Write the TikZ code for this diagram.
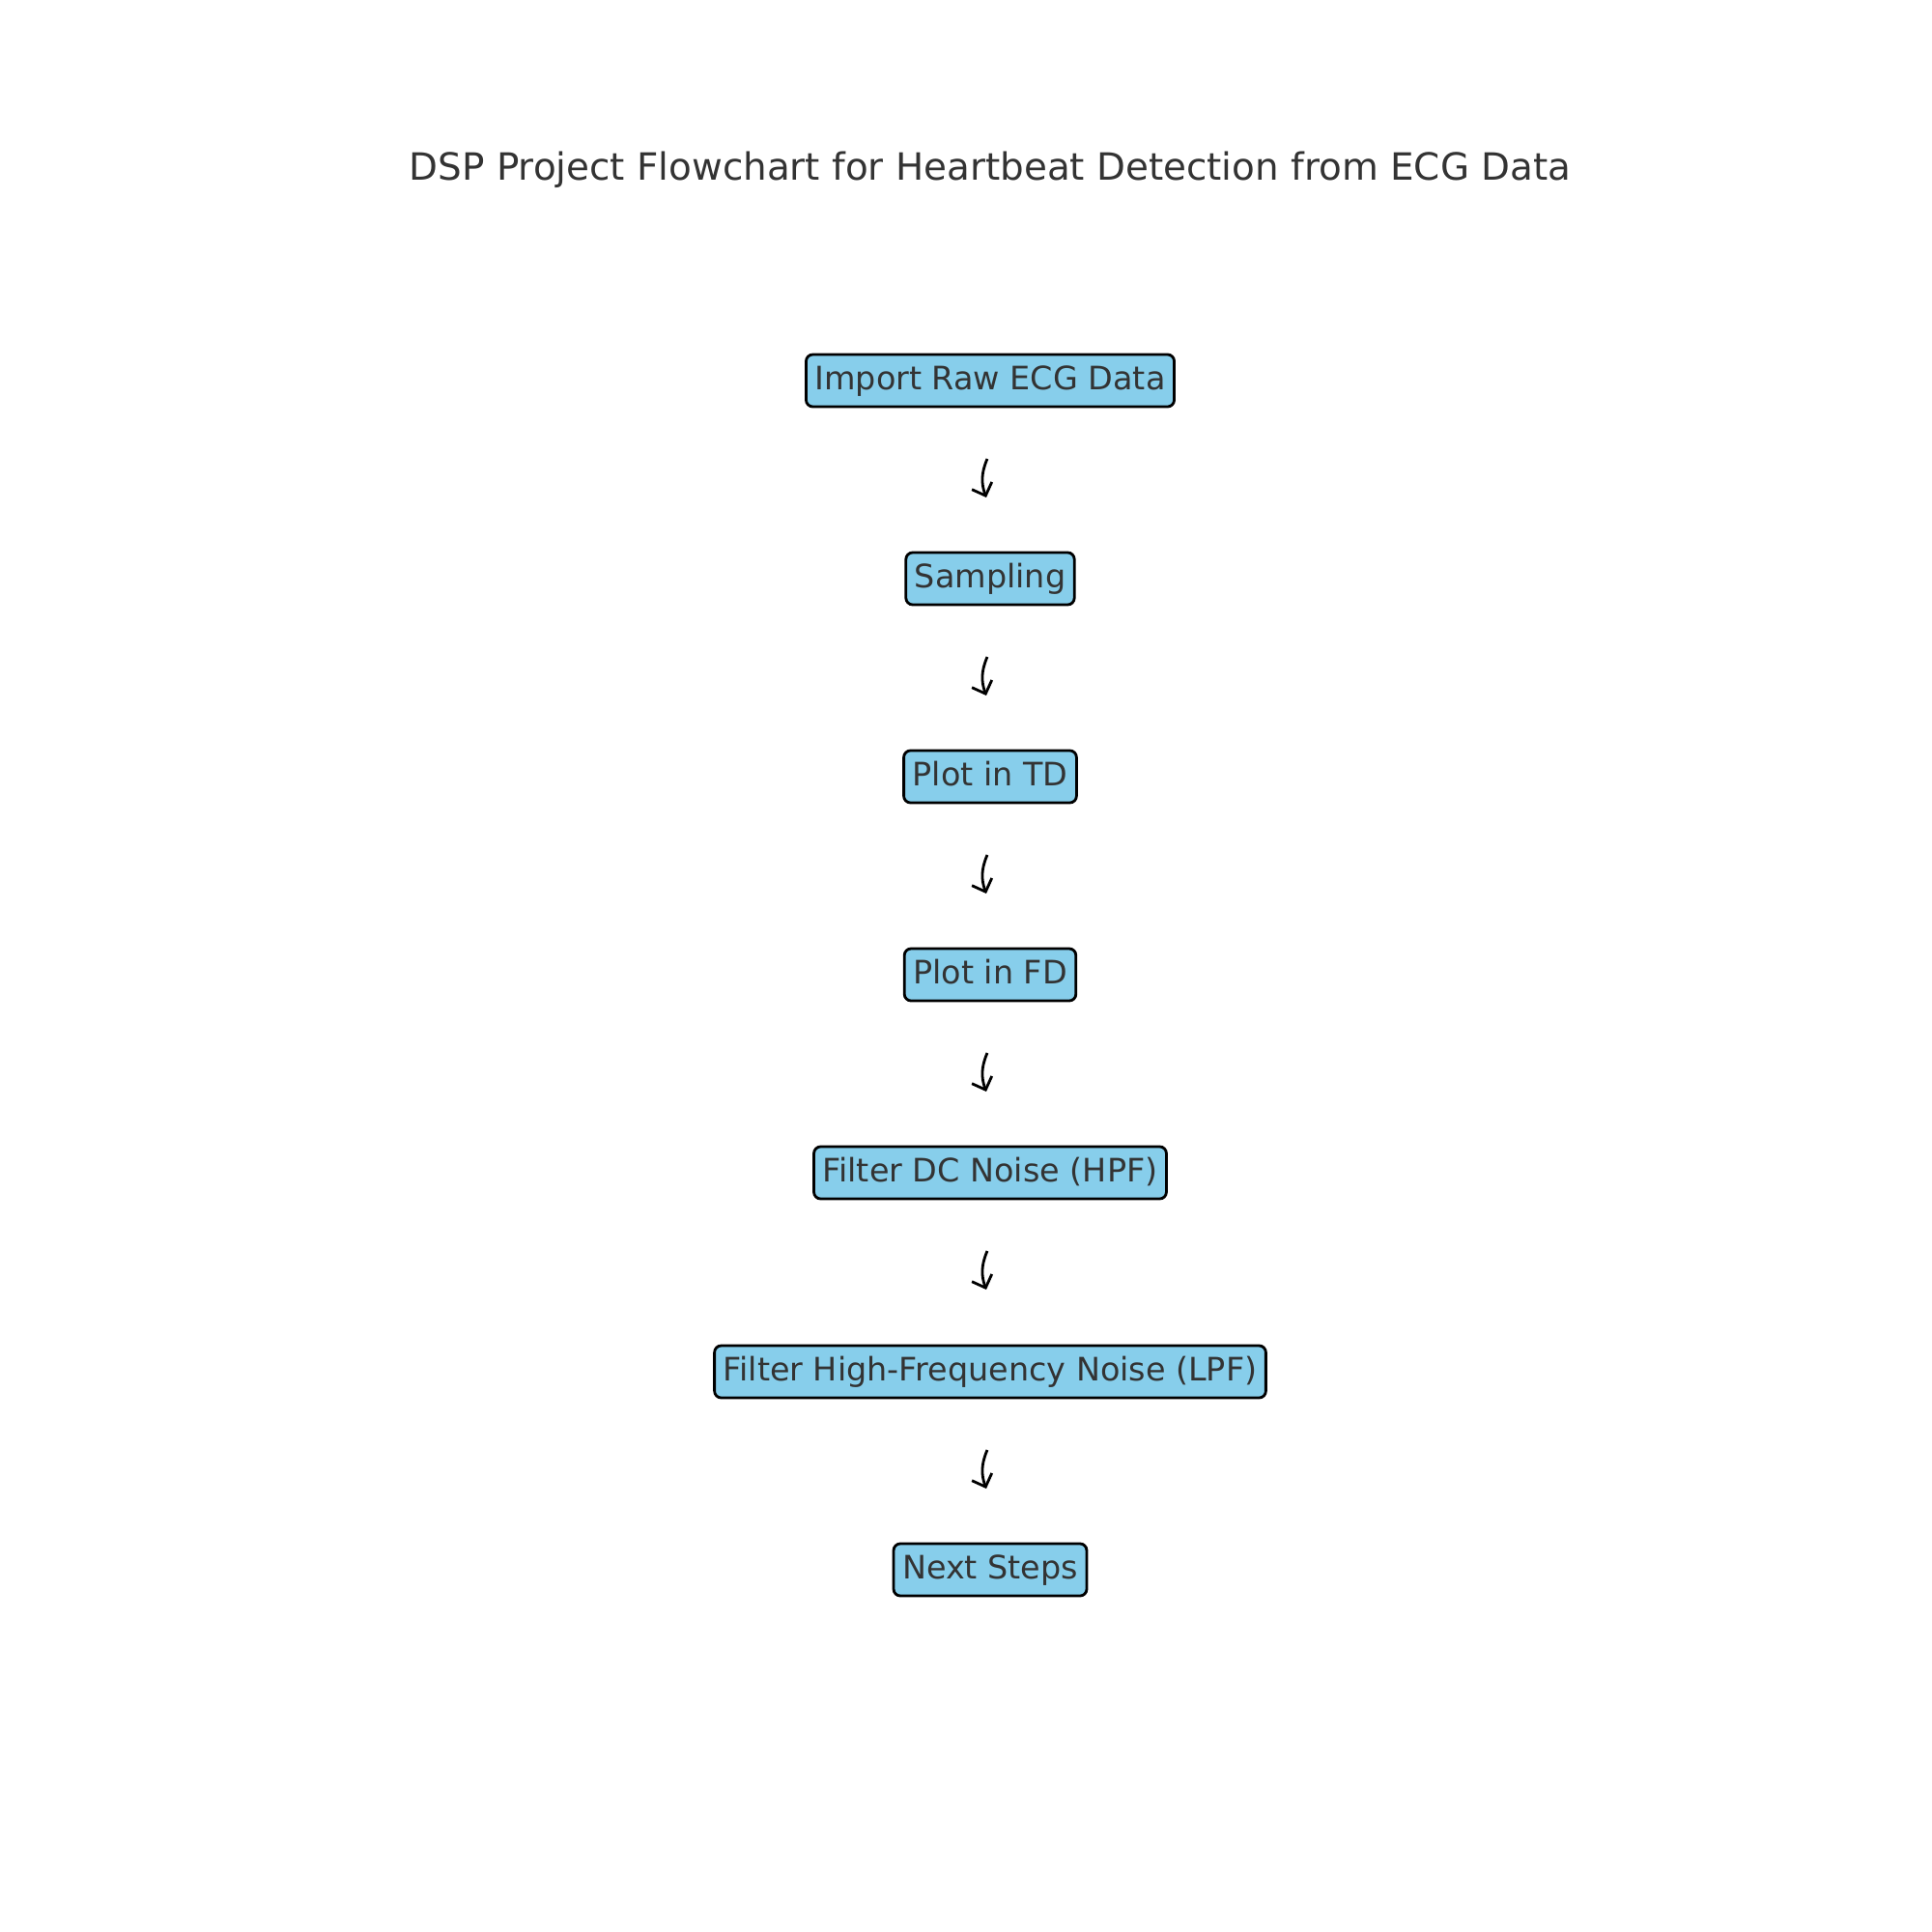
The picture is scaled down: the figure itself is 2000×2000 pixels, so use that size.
\documentclass[tikz,border=0pt]{standalone}
\usepackage{fontspec}
\setmainfont{DejaVu Sans}
\usetikzlibrary{arrows.meta,calc}
\definecolor{boxfill}{HTML}{87CEEB}
\definecolor{txt}{HTML}{333333}
\tikzset{
  stepbox/.style={draw=black, line width=0.28mm, fill=boxfill, rounded corners=0.7mm,
    text=txt, font=\fontsize{9.5pt}{11pt}\selectfont, inner xsep=0.9mm, inner ysep=0pt,
    minimum height=5.4mm, text height=0.76em, text depth=0.2em},
  flowarrow/.style={line width=0.28mm, -{Straight Barb[length=1.1mm,width=2.2mm]}, bend right=22},
  titletext/.style={text=txt, font=\fontsize{11.05pt}{13pt}\selectfont}
}
\begin{document}
\begin{tikzpicture}[x=0.01cm,y=-0.01cm]
\useasboundingbox (0,0) rectangle (2000,2000);
\node[titletext] (title) at (1025,176) {DSP Project Flowchart for Heartbeat Detection from ECG Data};
\node[stepbox] (n1) at (1025,394) {Import Raw ECG Data};
\node[stepbox] (n2) at (1025,599) {Sampling};
\node[stepbox] (n3) at (1025,804) {Plot in TD};
\node[stepbox] (n4) at (1025,1009) {Plot in FD};
\node[stepbox] (n5) at (1025,1214) {Filter DC Noise (HPF)};
\node[stepbox] (n6) at (1025,1420) {Filter High-Frequency Noise (LPF)};
\node[stepbox] (n7) at (1025,1625) {Next Steps};
\foreach \i in {1,...,6} {
  \coordinate (s\i) at ($(n\i.center)+(-3,81)$);
  \coordinate (e\i) at ($(n\i.center)+(-4,121)$);
  \draw[flowarrow] (s\i) to (e\i);
}
\end{tikzpicture}
\end{document}
